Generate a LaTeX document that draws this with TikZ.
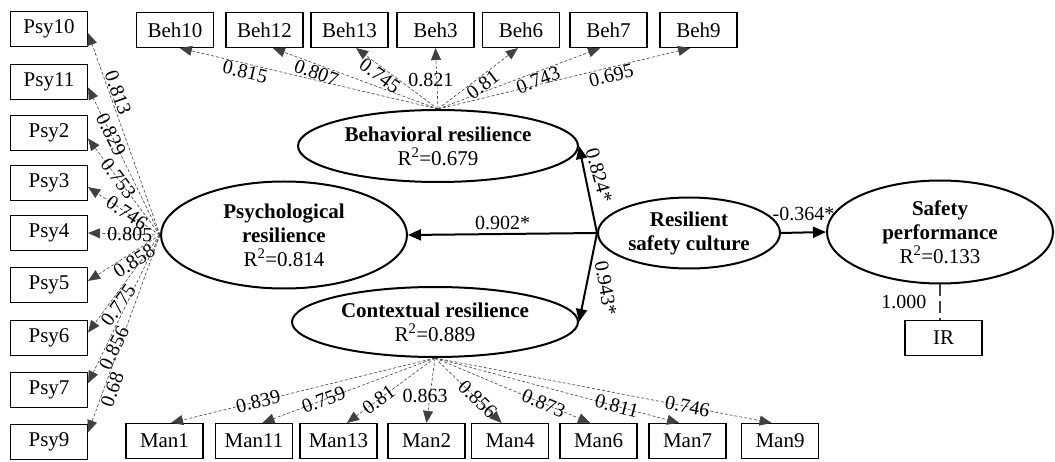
\documentclass[tikz,border=0pt]{standalone}
\usepackage{fontspec}
\setmainfont{Liberation Serif}
\usetikzlibrary{positioning}
\usetikzlibrary{arrows.meta,shapes.geometric}

\begin{document}
\begin{tikzpicture}[x=1pt,y=-1pt,
  ind/.style={draw,line width=1.2pt,minimum width=77pt,minimum height=35pt,inner sep=0pt,font=\fontsize{21}{24}\selectfont},
  lat/.style={draw,ellipse,line width=2pt,inner sep=0pt,align=center,font=\fontsize{21}{24}\selectfont},
  load/.style={draw=black!75,line width=0.6pt,dash pattern=on 3pt off 2pt,-{Triangle[length=12pt,width=10pt]}},
  regr/.style={line width=2pt,-{Triangle[length=13pt,width=11pt]}},
  lbl/.style={font=\fontsize{20}{22}\selectfont,inner sep=1pt}]

\useasboundingbox (0,0) rectangle (1055,462);

% latent variables
\node[lat,minimum width=280pt,minimum height=72pt] (behres) at (438,146)
  {\textbf{Behavioral resilience}\\R\textsuperscript{2}=0.679};
\node[lat,minimum width=246pt,minimum height=107pt] (psyres) at (284,235)
  {\textbf{Psychological}\\\textbf{resilience}\\R\textsuperscript{2}=0.814};
\node[lat,minimum width=286pt,minimum height=70pt] (ctxres) at (435,322)
  {\textbf{Contextual resilience}\\R\textsuperscript{2}=0.889};
\node[lat,minimum width=182pt,minimum height=71pt] (rsc) at (689,233)
  {\textbf{Resilient}\\\textbf{safety culture}};
\node[lat,minimum width=226pt,minimum height=103pt] (sp) at (940,232)
  {\textbf{Safety}\\\textbf{performance}\\R\textsuperscript{2}=0.133};

% indicators
\foreach \n/\y in {10/29,11/82,2/133,3/183,4/233,5/285,6/338,7/390,9/442}
  \node[ind] (psy\n) at (49,\y) {Psy\n};
\foreach \n/\x in {10/175,12/264.5,13/349.5,3/435.5,6/521,7/608.5,9/698.5}
  \node[ind] (beh\n) at (\x,30) {Beh\n};
\foreach \n/\x in {1/164.5,11/254,13/338.5,2/426.5,4/510,6/598.5,7/687.5,9/780}
  \node[ind] (man\n) at (\x,441) {Man\n};
\node[ind] (ir) at (943.5,338) {IR};

% loadings
\foreach \n/\v/\p/\a/\e in {10/0.813/.69/south/-6,11/0.829/.68/center/-8,
    2/0.753/.58/center/-8,3/0.746/.46/center/-6,4/0.805/.42/center/0,
    5/0.858/.42/north/6,6/0.775/.67/north/8,7/0.856/.74/north/10,9/0.68/.77/north/14}
  \draw[load] (psyres.west) -- node[lbl,sloped,pos=\p,anchor=\a] {\v} (psy\n.\e);

\foreach \n/\v/\p/\e in {10/0.815/.74/-75,12/0.807/.72/-65,13/0.745/.65/-70,
    6/0.81/.5/-100,7/0.743/.6/-115,9/0.695/.68/-115}
  \draw[load] (behres.north) -- node[lbl,sloped,pos=\p,anchor=north] {\v} (beh\n.\e);
\draw[load] (behres.north) -- node[lbl,pos=.48,xshift=-6pt] {0.821} (beh3.south);

\foreach \n/\v/\p/\e in {1/0.839/.67/70,11/0.759/.646/65,13/0.81/.64/65,
    4/0.856/.64/115,6/0.873/.70/115,7/0.811/.745/115,9/0.746/.75/115}
  \draw[load] (ctxres.south) -- node[lbl,sloped,pos=\p] {\v} (man\n.\e);
\draw[load] (ctxres.south) -- node[lbl,pos=.58,xshift=-5pt] {0.863} (man2.north);

\draw[draw=black!75,line width=1.5pt,dash pattern=on 12pt off 5pt] (sp.south)
  -- node[lbl,left=12pt] {1.000} (sp.south |- ir.north);

% structural paths
\draw[regr] (rsc.west) -- node[lbl,above=2pt] {0.902*} (psyres.east);
\draw[regr] (rsc.west) -- node[lbl,pos=.66,xshift=14pt,rotate=-74] {0.824*} (behres.east);
\draw[regr] (rsc.west) -- node[lbl,pos=.62,xshift=20pt,rotate=-80] {0.943*} (ctxres.east);
\draw[regr] (rsc.east) -- node[lbl,above=10pt] {-0.364*} (sp.west);

\end{tikzpicture}
\end{document}
